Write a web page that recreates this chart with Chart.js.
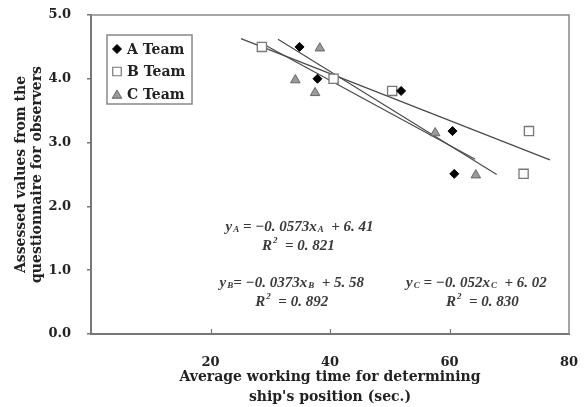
<!DOCTYPE html>
<html><head><meta charset="utf-8">
<script src="https://cdn.jsdelivr.net/npm/chart.js@4/dist/chart.umd.min.js"></script>
<style>html,body{margin:0;padding:0;background:#fff}#wrap{width:584px;height:407px}</style>
</head><body><div id="wrap"><canvas id="c" width="584" height="407"></canvas></div>
<script>
// ---- data ----
const teamLabels = ['A Team', 'B Team', 'C Team'];
const teamAX = [34.9, 37.9, 51.9, 60.5, 60.8];
const teamAY = [4.50, 4.00, 3.81, 3.18, 2.51];
const teamBX = [28.6, 40.6, 50.4, 73.3, 72.4];
const teamBY = [4.50, 4.00, 3.81, 3.18, 2.51];
const teamCX = [38.3, 34.2, 37.5, 57.6, 64.4];
const teamCY = [4.48, 3.98, 3.78, 3.15, 2.49];
// trend line end points
const trendAX = [31.3, 67.9];
const trendAY = [4.62, 2.50];
const trendBX = [25.1, 76.8];
const trendBY = [4.63, 2.73];
const trendCX = [29.1, 64.3];
const trendCY = [4.53, 2.74];
const xTicks = [20, 40, 60, 80];
const yTicks = [0, 1, 2, 3, 4, 5];
const xTitle = ['Average working time for determining', "ship's position (sec.)"];
const yTitle = ['Assessed values from the', 'questionnaire for observers'];
// regression annotations: parts [text, mode] where mode: n normal, b subscript, p superscript
const eqA = [['y','n'],['A','b'],[' = \u22120. 0573x','n'],['A','b'],['  + 6. 41','n']];
const r2A = [['R','n'],['2','p'],['  = 0. 821','n']];
const eqB = [['y','n'],['B','b'],['= \u22120. 0373x','n'],['B','b'],['  + 5. 58','n']];
const r2B = [['R','n'],['2','p'],['  = 0. 892','n']];
const eqC = [['y','n'],['C','b'],[' = \u22120. 052x','n'],['C','b'],['  + 6. 02','n']];
const r2C = [['R','n'],['2','p'],['  = 0. 830','n']];
// annotation anchors in data units (center x, middle y)
const annots = [
  {parts: eqA, x: 34.9, y: 1.68},
  {parts: r2A, x: 34.7, y: 1.38},
  {parts: eqB, x: 33.6, y: 0.80},
  {parts: r2B, x: 33.6, y: 0.50},
  {parts: eqC, x: 64.5, y: 0.80},
  {parts: r2C, x: 65.5, y: 0.50}
];

const pts = (xs, ys) => xs.map((x, i) => ({x, y: ys[i]}));
const SERIF = "'DejaVu Serif', serif";
const styles = [
  {pointStyle: 'rectRot', radius: 4.5, bg: '#000', border: '#000', bw: 1},
  {pointStyle: 'rect', radius: 6.5, bg: '#fff', border: '#777', bw: 1.3},
  {pointStyle: 'triangle', radius: 5.5, bg: '#9a9a9a', border: '#666', bw: 1}
];

function pointDs(label, data, s) {
  return {type: 'scatter', label, data, pointStyle: s.pointStyle, pointRadius: s.radius,
    pointBackgroundColor: s.bg, pointBorderColor: s.border, pointBorderWidth: s.bw,
    pointHoverRadius: s.radius, showLine: false, order: 1};
}
function lineDs(data) {
  return {type: 'line', label: '', data, borderColor: '#4a4a4a', borderWidth: 1.2,
    pointRadius: 0, showLine: true, fill: false, order: 2, tension: 0};
}

const overlay = {
  id: 'overlay',
  afterDraw(chart) {
    const ctx = chart.ctx, a = chart.chartArea;
    const xs = chart.scales.x, ys = chart.scales.y;
    ctx.save();
    // frame (top/right)
    ctx.strokeStyle = '#888'; ctx.lineWidth = 1.5;
    ctx.beginPath();
    ctx.moveTo(a.left, a.top); ctx.lineTo(a.right, a.top); ctx.lineTo(a.right, a.bottom);
    ctx.stroke();
    // inner x ticks
    ctx.strokeStyle = '#777'; ctx.lineWidth = 1.2;
    xTicks.forEach(v => {
      if (v >= xs.max) return;
      const px = Math.round(xs.getPixelForValue(v)) + 0.5;
      ctx.beginPath(); ctx.moveTo(px, a.bottom); ctx.lineTo(px, a.bottom - 5); ctx.stroke();
    });
    // legend
    const lx = a.left + 16, ly = a.top + 20, lw = 85, lh = 69;
    ctx.strokeStyle = '#888'; ctx.lineWidth = 1.5;
    ctx.strokeRect(lx, ly, lw, lh);
    ctx.font = 'bold 14px ' + SERIF; ctx.fillStyle = '#222';
    ctx.textBaseline = 'middle'; ctx.textAlign = 'left';
    const lstyles = [
      {pointStyle: 'rectRot', radius: 4.5, rotation: 0, borderWidth: 1},
      {pointStyle: 'rect', radius: 6, rotation: 0, borderWidth: 1.2},
      {pointStyle: 'triangle', radius: 5.5, rotation: 0, borderWidth: 1}
    ];
    teamLabels.forEach((t, i) => {
      const cy = ly + 14 + i * 22.5;
      ctx.save();
      ctx.fillStyle = styles[i].bg; ctx.strokeStyle = styles[i].border; ctx.lineWidth = lstyles[i].borderWidth;
      Chart.helpers.drawPoint(ctx, lstyles[i], lx + 10, cy + (i === 2 ? 1.5 : 0));
      ctx.restore();
      ctx.fillText(t, lx + 20, cy + 1);
    });
    // annotations
    annots.forEach(an => {
      const cx = xs.getPixelForValue(an.x), cy = ys.getPixelForValue(an.y);
      const fontFor = m => m === 'n' ? "italic bold 15px 'Liberation Serif', serif" : "italic bold 9px 'Liberation Serif', serif";
      let w = 0;
      an.parts.forEach(p => { ctx.font = fontFor(p[1]); w += ctx.measureText(p[0]).width + (p[1] !== 'n' ? 1 : 0); });
      let x = cx - w / 2;
      ctx.fillStyle = '#3a3a3a'; ctx.textBaseline = 'middle'; ctx.textAlign = 'left';
      an.parts.forEach(p => {
        ctx.font = fontFor(p[1]);
        const dy = p[1] === 'b' ? 3 : (p[1] === 'p' ? -5 : 0);
        ctx.fillText(p[0], x + (p[1] !== 'n' ? 1 : 0), cy + dy);
        x += ctx.measureText(p[0]).width + (p[1] !== 'n' ? 1 : 0);
      });
    });
    ctx.restore();
  }
};

new Chart(document.getElementById('c'), {
  type: 'scatter',
  data: {
    datasets: [
      pointDs(teamLabels[0], pts(teamAX, teamAY), styles[0]),
      pointDs(teamLabels[1], pts(teamBX, teamBY), styles[1]),
      pointDs(teamLabels[2], pts(teamCX, teamCY), styles[2]),
      lineDs(pts(trendAX, trendAY)),
      lineDs(pts(trendBX, trendBY)),
      lineDs(pts(trendCX, trendCY))
    ]
  },
  options: {
    responsive: false,
    animation: false,
    devicePixelRatio: 1,
    layout: {padding: {top: 15, right: 15, left: 0, bottom: 0}},
    plugins: {legend: {display: false}, tooltip: {enabled: false}},
    scales: {
      x: {
        type: 'linear', min: 0, max: 80,
        afterBuildTicks: s => { s.ticks = xTicks.map(v => ({value: v})); },
        afterFit: s => { s.height = 73; s.paddingLeft = 0; s.paddingRight = 0; },
        grid: {display: false},
        border: {display: true, color: '#777', width: 2},
        ticks: {padding: 13, color: '#222', font: {family: SERIF, size: 13, weight: 'bold'}, callback: v => String(v)},
        title: {display: true, text: xTitle, color: '#222', padding: {top: 0, bottom: 0},
          font: {family: SERIF, size: 14, weight: 'bold', lineHeight: '20px'}}
      },
      y: {
        type: 'linear', min: 0, max: 5,
        afterBuildTicks: s => { s.ticks = yTicks.map(v => ({value: v})); },
        afterFit: s => { s.width = 91; s.paddingTop = 0; s.paddingBottom = 0; },
        grid: {display: true, drawOnChartArea: false, drawTicks: true, tickLength: 4, color: '#777', lineWidth: 1.5},
        border: {display: true, color: '#777', width: 2},
        ticks: {padding: 16, color: '#222', font: {family: SERIF, size: 13, weight: 'bold'}, callback: v => Number(v).toFixed(1)},
        title: {display: true, text: yTitle, color: '#222', padding: {top: 13, bottom: 0},
          font: {family: SERIF, size: 14, weight: 'bold', lineHeight: '16px'}}
      }
    }
  },
  plugins: [overlay]
});
</script>
</body></html>
